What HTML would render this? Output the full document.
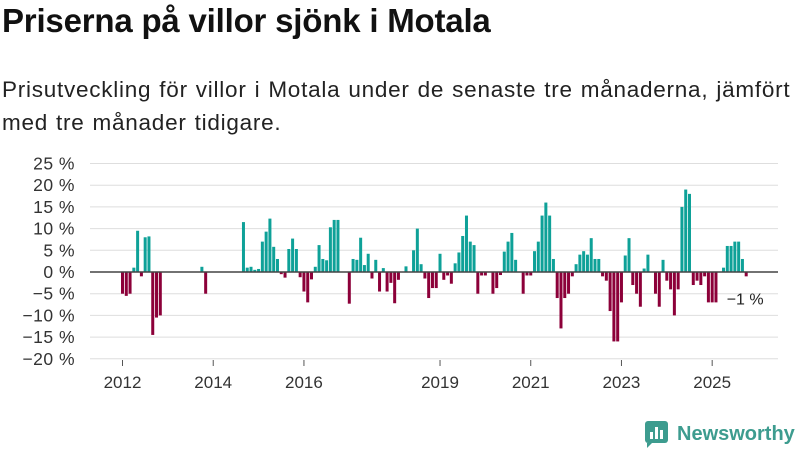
<!DOCTYPE html>
<html><head><meta charset="utf-8">
<style>
body{margin:0;width:800px;height:450px;background:#fff;font-family:"Liberation Sans",sans-serif;overflow:hidden;position:relative}
h1{position:absolute;left:2px;top:2px;margin:0;font-size:33px;font-weight:bold;color:#111;letter-spacing:-0.2px}
p{position:absolute;left:2px;top:73px;margin:0;font-size:22.5px;line-height:33px;color:#222;width:800px;white-space:nowrap;letter-spacing:0.75px;word-spacing:1px}
svg{position:absolute;left:0;top:0}
</style></head><body>
<h1>Priserna på villor sjönk i Motala</h1>
<p>Prisutveckling för villor i Motala under de senaste tre månaderna, jämfört<br>med tre månader tidigare.</p>
<svg id="c" width="800" height="450"></svg>
<script>
const startYear = 2012;
const values = [-5,-5.5,-5,1,9.5,-1,8,8.2,-14.5,-10.5,-10,null,
null,null,null,null,null,null,null,null,null,1.2,-5,null,
null,null,null,null,null,null,null,null,11.5,1,1.2,0.5,
0.7,7,9.3,12.3,5.8,3,-0.5,-1.3,5.3,7.7,5.3,-1.2,
-4.5,-7,-1.7,1.2,6.2,3,2.7,10.3,12,12,null,null,
-7.3,3,2.8,7.9,1.6,4.2,-1.5,2.8,-4.5,0.9,-4.5,-2.5,
-7.2,-1.8,null,1.3,null,5,10,1.8,-1.5,-6,-3.7,-3.7,
4.2,-1.8,-0.8,-2.7,2,4.5,8.3,13,7,6.2,-5,-0.8,
-0.8,null,-5,-3.7,-0.7,4.7,7,9,2.8,null,-5,-0.8,
-0.8,4.8,7,13,16,13,3,-6,-13,-6,-5,-1,
1.8,4,4.8,4,7.8,3,3,-1,-2,-9,-16,-16,
-7,3.8,7.8,-3,-5,-8,0.8,4,null,-5,-8,2.8,
-2,-4,-10,-4,15,19,18,-3,-2,-3,-1,-7,
-7,-7,null,1,6,6,7,7,3,-1];
const yTicks = [25,20,15,10,5,0,-5,-10,-15,-20];
const xTickYears = [2012,2014,2016,2019,2021,2023,2025];
const NS='http://www.w3.org/2000/svg';
const svg=document.getElementById('c');
const y=v=>272-v*4.34;
const x=m=>121+m*3.78;
function mk(t,a){const e=document.createElementNS(NS,t);for(const k in a)e.setAttribute(k,a[k]);svg.appendChild(e);return e;}
yTicks.forEach(v=>{
  const g=mk('line',{x1:90,x2:778,y1:y(v),y2:y(v),stroke:'#dedede','stroke-width':1});
  
  
  const t=mk('text',{x:75,y:y(v)+6,'text-anchor':'end','font-size':17.5,fill:'#333','letter-spacing':0.5});
  t.textContent=(v<0?'−'+(-v):v)+' %';
  
  
});
values.forEach((v,m)=>{
  if(v===null)return;
  const r=mk('rect',{x:x(m),width:3,y:v>=0?y(v):y(0),height:Math.abs(y(v)-y(0)),fill:v>=0?'#0ea198':'#8c0039'});
  
  
});
const base=mk('line',{x1:90,x2:778,y1:y(0),y2:y(0),stroke:'#444','stroke-width':1.6});


xTickYears.forEach(yr=>{
  const m=(yr-startYear)*12;
  const l=mk('line',{x1:x(m)+1.5,x2:x(m)+1.5,y1:360,y2:366,stroke:'#555'});
  
  
  const t=mk('text',{x:x(m)+1.5,y:388,'text-anchor':'middle','font-size':17,fill:'#333'});
  t.textContent=yr;
  
  
});
const last=values.length-1;
const a=mk('text',{x:x(last)-18,y:y(values[last])+28,'font-size':16,fill:'#222'});
a.textContent='−1 %';


</script>
<svg width="800" height="450" style="position:absolute;left:0;top:0">
<rect x="645" y="421" width="23" height="22" rx="3" fill="#3d9c8f"/>
<rect x="650" y="432" width="3" height="7" fill="#fff"/><rect x="655" y="427" width="3" height="12" fill="#fff"/><rect x="660" y="430" width="3" height="9" fill="#fff"/>
<polygon points="647,443 652,443 647,448" fill="#3d9c8f"/>
<text x="677" y="440" font-size="20" font-weight="bold" fill="#3d9c8f" font-family="Liberation Sans, sans-serif">Newsworthy</text>
</svg>
</body></html>
